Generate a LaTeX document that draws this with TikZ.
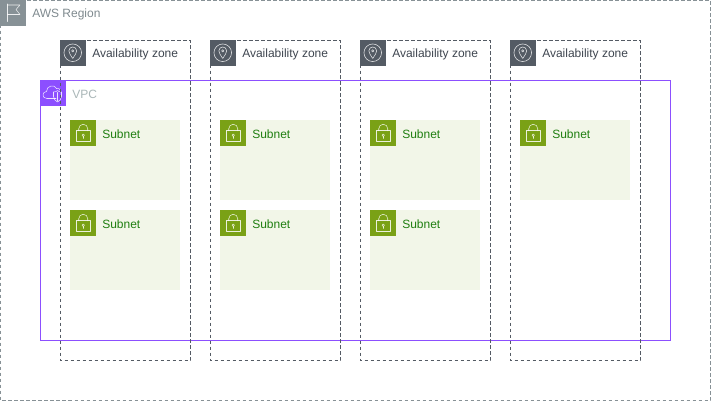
\documentclass[tikz,border=0pt]{standalone}
\usepackage{fontspec}
\setmainfont{Liberation Sans}
\definecolor{regiongray}{HTML}{879196}
\definecolor{azgray}{HTML}{545B64}
\definecolor{vpcpurple}{HTML}{8C4FFF}
\definecolor{subnetfill}{HTML}{F2F6E8}
\definecolor{subnetgreen}{HTML}{7AA116}
\definecolor{subnettext}{HTML}{1F7F10}
\definecolor{vpctext}{HTML}{AAB7B8}
\definecolor{regiontext}{HTML}{7F8A8F}
\definecolor{aztext}{HTML}{3F4650}
\tikzset{
  px/.style={x=0.75pt,y=-0.75pt},
  regionbox/.style={draw=regiongray,dash pattern=on 2.5pt off 2pt,line width=0.75pt},
  azbox/.style={draw=azgray,dash pattern=on 2.5pt off 2pt,line width=0.75pt},
  vpcbox/.style={draw=vpcpurple,line width=0.75pt},
  subnetbox/.style={fill=subnetfill,draw=none},
  iconline/.style={draw=white,draw opacity=0.85,line width=0.4pt,line cap=round,line join=round},
  lbl/.style={anchor=west,inner sep=0pt,font=\fontsize{9}{11}\selectfont},
}
\newcommand{\subnetat}[2]{%
  \fill[subnetbox] (#1+.25,#2+.25) rectangle ++(110,80);
  \fill[subnetgreen] (#1+.25,#2+.25) rectangle ++(25.3,25.3);
  \begin{scope}[shift={(#1+.25,#2+.25)}]
    \draw[iconline] (6,10.5) rectangle (20,21.5);
    \draw[iconline] (8.5,10.5) -- (8.5,8.5) arc[start angle=180,end angle=0,x radius=4.5,y radius=-4.5] -- (17.5,10.5);
    \draw[iconline] (13,15) circle[radius=1.2];
    \draw[iconline] (13,16.2) -- (13,18.2);
  \end{scope}
  \node[lbl,text=subnettext] (subnet#1#2) at (#1+32,#2+14) {Subnet};
}
\newcommand{\azat}[1]{%
  \draw[azbox] (#1+.5,40.5) rectangle ++(130,320);
  \fill[azgray] (#1+.25,40.25) rectangle ++(25.3,25.3);
  \begin{scope}[shift={(#1+.25,40.25)}]
    \draw[iconline] (12.5,12.5) circle[radius=8.8];
    \draw[iconline] (12.5,18.2) .. controls (10.2,14.5) and (8.6,12.8) .. (8.6,10.6)
       arc[start angle=180,end angle=0,x radius=3.9,y radius=-3.9]
       .. controls (16.4,12.8) and (14.8,14.5) .. (12.5,18.2);
    \draw[iconline] (12.5,10.6) circle[radius=1.2];
  \end{scope}
  \node[lbl,text=aztext] (az#1) at (#1+32,54) {Availability zone};
}
\begin{document}
\begin{tikzpicture}[px]
\useasboundingbox (0,0) rectangle (711,401);
\fill[white] (0,0) rectangle (711,401);
% Region
\draw[regionbox] (0.5,0.5) rectangle (710.5,400.5);
\fill[regiongray] (0.25,0.25) rectangle (25.5,25.5);
\draw[iconline] (7.5,4) -- (7.5,21.5);
\draw[iconline] (7.5,5) -- (20,5) -- (16,9.5) -- (20,14.5) -- (7.5,14.5);
\node[lbl,text=regiontext] (regionlabel) at (32,14) {AWS Region};
% VPC
\draw[vpcbox] (40.5,80.5) rectangle (670.5,340.5);
\fill[vpcpurple] (40.25,80.25) rectangle (65.5,105.5);
\draw[iconline] (56,98.5) -- (50,98.5) -- (47,98.5) .. controls (41.5,98.5) and (42,91.5) .. (46.5,91.5)
   .. controls (46.5,85.5) and (54.5,84) .. (56.5,88.5) .. controls (58,88) and (60,88.5) .. (60.5,90.5);
\draw[iconline] (53.5,92) .. controls (55.5,92) and (57,91.3) .. (57.5,90.5)
   .. controls (58,91.3) and (60,92) .. (61.5,92) -- (61.5,96.5) .. controls (61.5,99) and (59.5,101) .. (57.5,102)
   .. controls (55.5,101) and (53.5,99) .. (53.5,96.5) -- cycle;
\draw[iconline] (57.5,92.5) -- (57.5,101);
\node[lbl,text=vpctext] (vpclabel) at (72,94) {VPC};
% Availability zones
\azat{60}
\azat{210}
\azat{360}
\azat{510}
% Subnets
\subnetat{70}{120}
\subnetat{220}{120}
\subnetat{370}{120}
\subnetat{520}{120}
\subnetat{70}{210}
\subnetat{220}{210}
\subnetat{370}{210}
\end{tikzpicture}
\end{document}
